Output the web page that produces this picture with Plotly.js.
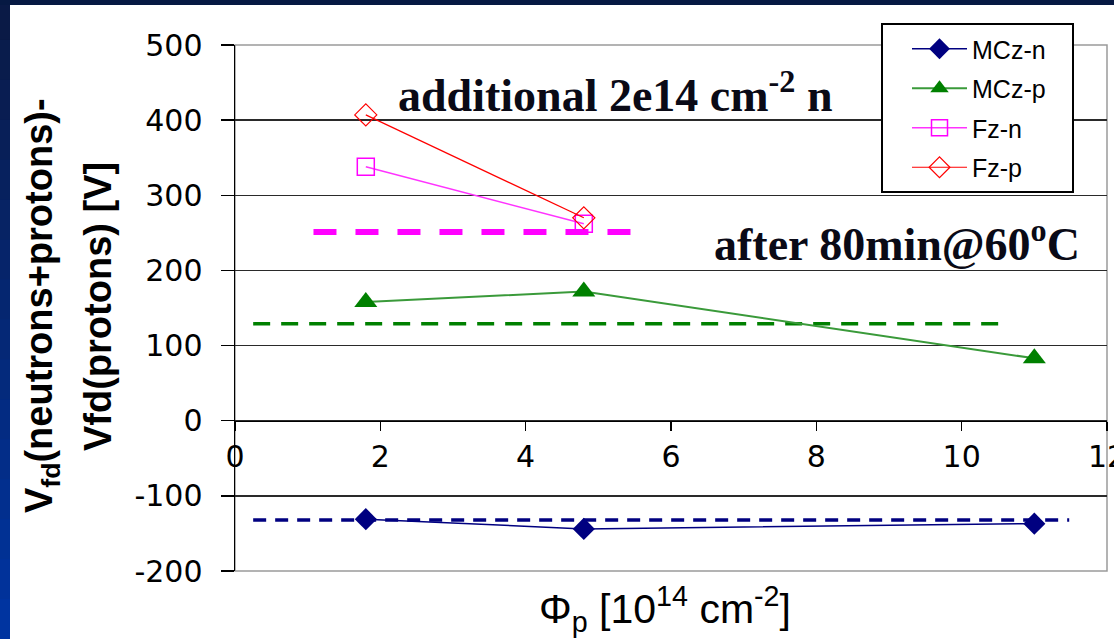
<!DOCTYPE html>
<html>
<head>
<meta charset="utf-8">
<script src="https://cdn.plot.ly/plotly-3.0.1.min.js"></script>
<style>html,body{margin:0;padding:0;background:#fff;}#chart{width:1114px;height:639px;}</style>
</head>
<body>
<div id="chart"></div>
<script>
// ---- data ----
var fluence = [1.8, 4.8, 11];
var mczN = [-131, -144, -137];
var mczP = [158, 172, 83];
var fzFluence = [1.8, 4.8];
var fzN = [338, 262];
var fzP = [407, 270];
// reference (dashed) levels
var refNavyX = [0.25, 11.48], refNavyY = [-132, -132];
var refGreenX = [0.25, 10.53], refGreenY = [129, 129];
var refMagX = [1.08, 5.46], refMagY = [251, 251];
var seriesNames = ['MCz-n', 'MCz-p', 'Fz-n', 'Fz-p'];
var xTicks = [0, 2, 4, 6, 8, 10, 12];
var yTicks = [-200, -100, 0, 100, 200, 300, 400, 500];

// ---- geometry helpers (pixels -> paper) ----
var W = 1114, H = 639, ML = 235, MR = 7, MT = 45, MB = 68;
var PW = W - ML - MR, PH = H - MT - MB;
function px(x) { return (x - ML) / PW; }
function py(y) { return (H - MB - y) / PH; }

var traces = [
  {x: refNavyX, y: refNavyY, mode: 'lines', showlegend: false, hoverinfo: 'skip',
   line: {color: '#000080', width: 3.5, dash: '13px,9px'}},
  {x: refGreenX, y: refGreenY, mode: 'lines', showlegend: false, hoverinfo: 'skip',
   line: {color: '#008000', width: 3.5, dash: '17px,11px'}},
  {x: refMagX, y: refMagY, mode: 'lines', showlegend: false, hoverinfo: 'skip',
   line: {color: '#ff00ff', width: 6, dash: '23px,19px'}},
  {x: fluence, y: mczN, name: seriesNames[0], legendgroup: 'a', mode: 'lines+markers',
   line: {color: '#000080', width: 1.5},
   marker: {symbol: 'diamond', size: 17, color: '#000080'}},
  {x: fluence, y: mczP, name: seriesNames[1], legendgroup: 'b', mode: 'lines+markers',
   line: {color: '#3a9a3a', width: 2},
   marker: {symbol: 'triangle-up', size: 20, color: '#008000'}},
  {x: fzFluence, y: fzN, name: seriesNames[2], legendgroup: 'c', mode: 'lines+markers',
   line: {color: '#ff33ff', width: 1.5},
   marker: {symbol: 'square-open', size: 17, color: '#ff00ff', line: {width: 1.5}}},
  {x: fzFluence, y: fzP, name: seriesNames[3], legendgroup: 'd', mode: 'lines+markers',
   line: {color: '#ff0000', width: 1.2},
   marker: {symbol: 'diamond-open', size: 17, color: '#ff0000', line: {width: 1.2}}}
];

// background frame (dark band on top and gradient strip on the left)
var shapes = [];
var nSeg = 16;
for (var i = 0; i < nSeg; i++) {
  var t = i / (nSeg - 1);
  var r = Math.round(10 + (0 - 10) * t), g = Math.round(26 + (52 - 26) * t), b = Math.round(70 + (160 - 70) * t);
  shapes.push({type: 'rect', xref: 'paper', yref: 'paper', layer: 'below',
    x0: px(0), x1: px(10), y0: py(H * (i + 1) / nSeg + 1), y1: py(H * i / nSeg),
    fillcolor: 'rgb(' + r + ',' + g + ',' + b + ')', line: {width: 0}});
}
shapes.push({type: 'rect', xref: 'paper', yref: 'paper', layer: 'below',
  x0: px(0), x1: px(W), y0: py(5), y1: py(0), fillcolor: '#061943', line: {width: 0}});
// plot frame
shapes.push({type: 'rect', xref: 'paper', yref: 'paper', layer: 'below',
  x0: 0, x1: 1, y0: 0, y1: 1, line: {color: '#9a9a9a', width: 1.5}});
// legend box
shapes.push({type: 'rect', xref: 'paper', yref: 'paper', layer: 'above',
  x0: px(882), x1: px(1073), y0: py(192), y1: py(24),
  fillcolor: '#ffffff', line: {color: '#000000', width: 2}});

var serif = 'Liberation Serif, Times New Roman, serif';
var sans = 'Liberation Sans, Arial, sans-serif';
var annotations = [
  {xref: 'paper', yref: 'paper', x: px(42), y: py(306), xanchor: 'center', yanchor: 'middle',
   textangle: -90, showarrow: false, text: '<b>V<sub>fd</sub>(neutrons+protons)-</b>',
   font: {family: sans, size: 38, color: '#000'}},
  {xref: 'paper', yref: 'paper', x: px(98), y: py(307), xanchor: 'center', yanchor: 'middle',
   textangle: -90, showarrow: false, text: '<b>Vfd(protons) [V]</b>',
   font: {family: sans, size: 38, color: '#000'}},
  {xref: 'paper', yref: 'paper', x: px(665), y: py(609), xanchor: 'center', yanchor: 'middle',
   showarrow: false, text: 'Φ<sub>p</sub> [10<sup>14</sup> cm<sup>-2</sup>]',
   font: {family: sans, size: 41, color: '#000'}},
  {xref: 'paper', yref: 'paper', x: px(615), y: py(92), xanchor: 'center', yanchor: 'middle',
   showarrow: false, text: '<b>additional 2e14 cm<sup>-2</sup> n</b>',
   font: {family: serif, size: 46, color: '#0a0a16'}},
  {xref: 'paper', yref: 'paper', x: px(897), y: py(241), xanchor: 'center', yanchor: 'middle',
   showarrow: false, text: '<b>after 80min@60<sup>o</sup>C</b>',
   font: {family: serif, size: 46, color: '#0a0a16'}}
];

var layout = {
  width: W, height: H,
  margin: {l: ML, r: MR, t: MT, b: MB, pad: 0},
  paper_bgcolor: '#ffffff', plot_bgcolor: '#ffffff',
  showlegend: true,
  legend: {x: px(907), y: py(26), xanchor: 'left', yanchor: 'top',
    bgcolor: 'rgba(0,0,0,0)', borderwidth: 0,
    font: {family: sans, size: 25, color: '#000'}, itemwidth: 55,
    traceorder: 'grouped', tracegroupgap: 4},
  xaxis: {range: [0, 12], tickvals: xTicks, ticktext: xTicks.map(String),
    anchor: 'free', position: 200 / 700, showline: true, linecolor: '#000', linewidth: 1.5,
    ticks: 'outside', ticklen: 9, tickwidth: 1.5, tickcolor: '#000',
    showgrid: false, zeroline: false, ticklabeloverflow: 'allow',
    tickfont: {family: 'DejaVu Sans, sans-serif', size: 30, color: '#000'}},
  yaxis: {range: [-200, 500], tickvals: yTicks, ticktext: yTicks.map(String),
    showline: true, linecolor: '#000', linewidth: 1.5,
    ticks: 'outside', ticklen: 13, tickwidth: 1.5, tickcolor: '#000',
    showgrid: true, gridcolor: '#2a2a2a', gridwidth: 1.5, zeroline: false,
    ticklabelstandoff: 12,
    tickfont: {family: 'DejaVu Sans, sans-serif', size: 30, color: '#000'}},
  shapes: shapes,
  annotations: annotations
};

Plotly.newPlot('chart', traces, layout, {displayModeBar: false, staticPlot: true});
</script>
</body>
</html>
